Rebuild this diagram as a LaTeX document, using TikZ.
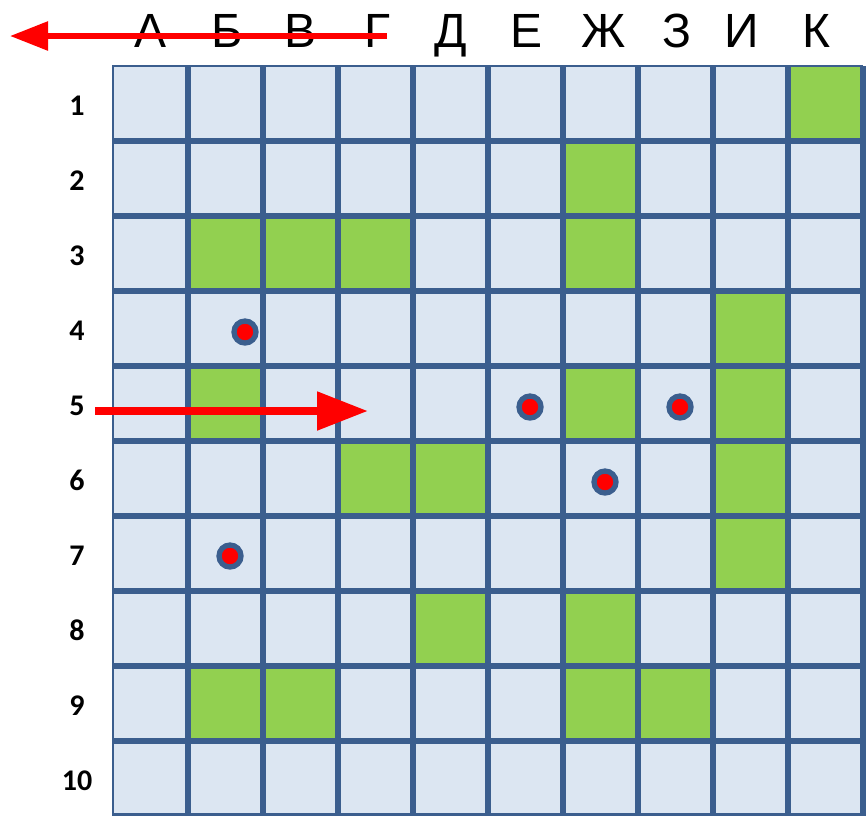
\documentclass[tikz,border=0pt]{standalone}
\usepackage{fontspec}
\newfontfamily\letterfont{Liberation Sans}
\newfontfamily\numfont{Carlito}
\usetikzlibrary{arrows.meta}
\definecolor{gridblue}{HTML}{3B5E8E}
\definecolor{cellfill}{HTML}{DCE6F2}
\definecolor{cellgreen}{HTML}{92D050}
\definecolor{arrowred}{HTML}{FF0000}
\begin{document}
\begin{tikzpicture}[x=1pt,y=-1pt,
  gridline/.style={draw=gridblue,line width=5.5pt},
  borderline/.style={draw=gridblue,line width=2.5pt},
  collabel/.style={anchor=base,inner sep=0pt,font=\letterfont\fontsize{48}{48}\selectfont},
  rowlabel/.style={anchor=base,inner sep=0pt,font=\numfont\bfseries\fontsize{30}{30}\selectfont},
  dot/.style={circle,draw=gridblue,fill=arrowred,line width=5.3pt,minimum size=22pt,inner sep=0pt},
  redarrow/.style={draw=arrowred,fill=arrowred}]
\useasboundingbox (0,0) rectangle (867,815);
\clip (0,0) rectangle (867,815);
% cells
\fill[cellfill] (113,66) rectangle (863,816);
\foreach \c/\r in {10/1,7/2,2/3,3/3,4/3,7/3,9/4,2/5,7/5,9/5,4/6,5/6,9/6,9/7,5/8,7/8,2/9,3/9,7/9,8/9}
  \fill[cellgreen] ({113+75*(\c-1)},{66+75*(\r-1)}) rectangle ++(75,75);
% grid lines
\foreach \i in {1,...,10} {
  \draw[gridline] ({113+75*\i},66) -- ({113+75*\i},816);
  \draw[gridline] (113,{66+75*\i}) -- (863,{66+75*\i});
}
\draw[borderline] (113,816) -- (113,66) -- (863,66);
% column letters
\node[collabel] (cA) at (151,47) {А};
\node[collabel] (cB) at (227,47) {Б};
\node[collabel] (cV) at (301,47) {В};
\node[collabel] (cG) at (377,47) {Г};
\node[collabel] (cD) at (451,47) {Д};
\node[collabel] (cE) at (527,47) {Е};
\node[collabel] (cZh) at (604,47) {Ж};
\node[collabel] (cZ) at (677,47) {З};
\node[collabel] (cI) at (742,47) {И};
\node[collabel] (cK) at (816,47) {К};
% row numbers
\foreach \k in {1,...,10}
  \node[rowlabel] (r\k) at (77,{40+75*\k}) {\k};
% dots
\node[dot] (d1) at (245,332) {};
\node[dot] (d2) at (530,407) {};
\node[dot] (d3) at (680,407) {};
\node[dot] (d4) at (605,482) {};
\node[dot] (d5) at (230,556) {};
% arrows
\coordinate (a1s) at (387,36);
\coordinate (a1e) at (10,36);
\draw[redarrow,line width=5.7pt,-{Triangle[length=38pt,width=28pt]}] (a1s) -- (a1e);
\coordinate (a2s) at (95,411);
\coordinate (a2e) at (368,411);
\draw[redarrow,line width=8.3pt,-{Triangle[length=51pt,width=37pt]}] (a2s) -- (a2e);
\end{tikzpicture}
\end{document}
